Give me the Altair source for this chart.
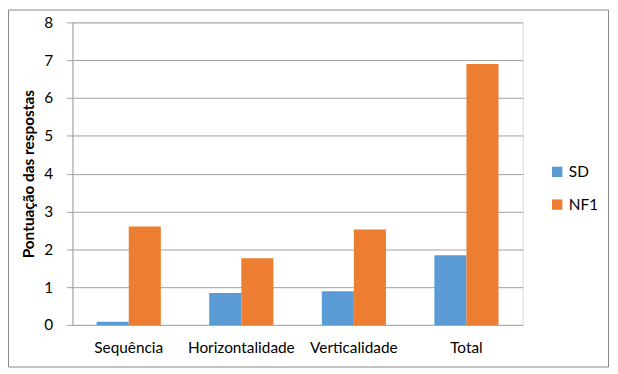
import altair as alt
import pandas as pd

categories = ["Sequência", "Horizontalidade", "Verticalidade", "Total"]
series = ["SD", "NF1"]
sd_values = [0.08, 0.84, 0.89, 1.84]
nf1_values = [2.6, 1.76, 2.52, 6.9]
y_ticks = [0, 1, 2, 3, 4, 5, 6, 7, 8]
colors = ["#5B9BD5", "#ED7D31"]

rows = []
for c, a, b in zip(categories, sd_values, nf1_values):
    rows.append({"cat": c, "series": "SD", "value": a})
    rows.append({"cat": c, "series": "NF1", "value": b})
df = pd.DataFrame(rows)

FONT = "Lato"
GRID = "#A0A0A0"

bars = alt.Chart(df).mark_bar().encode(
    x=alt.X("cat:N", sort=categories,
            scale=alt.Scale(paddingInner=0.43, paddingOuter=0.215),
            axis=alt.Axis(title=None, labelAngle=0, ticks=False, domain=False,
                          labelFontSize=15.5, labelColor="#000000", labelPadding=16,
                          labelFont=FONT)),
    xOffset=alt.XOffset("series:N", sort=series),
    y=alt.Y("value:Q", scale=alt.Scale(domain=[0, 8], nice=False),
            axis=alt.Axis(values=y_ticks, title="Pontuação das respostas",
                          titleFont=FONT, titleFontSize=15.5, titleFontWeight="bold",
                          titleColor="#000000", titlePadding=7,
                          labelFont=FONT, labelFontSize=15.5, labelColor="#000000",
                          labelPadding=14, tickSize=6, tickColor=GRID,
                          domainColor=GRID, gridColor=GRID, grid=True)),
    color=alt.Color("series:N", sort=series,
                    scale=alt.Scale(domain=series, range=colors),
                    legend=alt.Legend(title=None, orient="none", legendX=481, legendY=143,
                                      symbolType="square", symbolSize=110,
                                      symbolStrokeWidth=0, labelFont=FONT,
                                      labelFontSize=15.5, labelColor="#000000",
                                      rowPadding=16, labelOffset=4)),
)

border = alt.Chart(alt.Data(values=[{}])).mark_rect(
    fill="transparent", stroke="#888888", strokeWidth=1
).encode(
    x=alt.value(-64.5), x2=alt.value(540.5),
    y=alt.value(-12.5), y2=alt.value(347.5),
)

chart = alt.layer(bars, border).properties(
    width=454, height=305,
    autosize=alt.AutoSizeParams(type="none"),
    padding={"left": 65, "top": 13, "right": 88, "bottom": 45},
).configure_view(stroke=None).configure(background="#FFFFFF")

chart.save("out.html", embed_options={"renderer": "svg", "actions": False})
